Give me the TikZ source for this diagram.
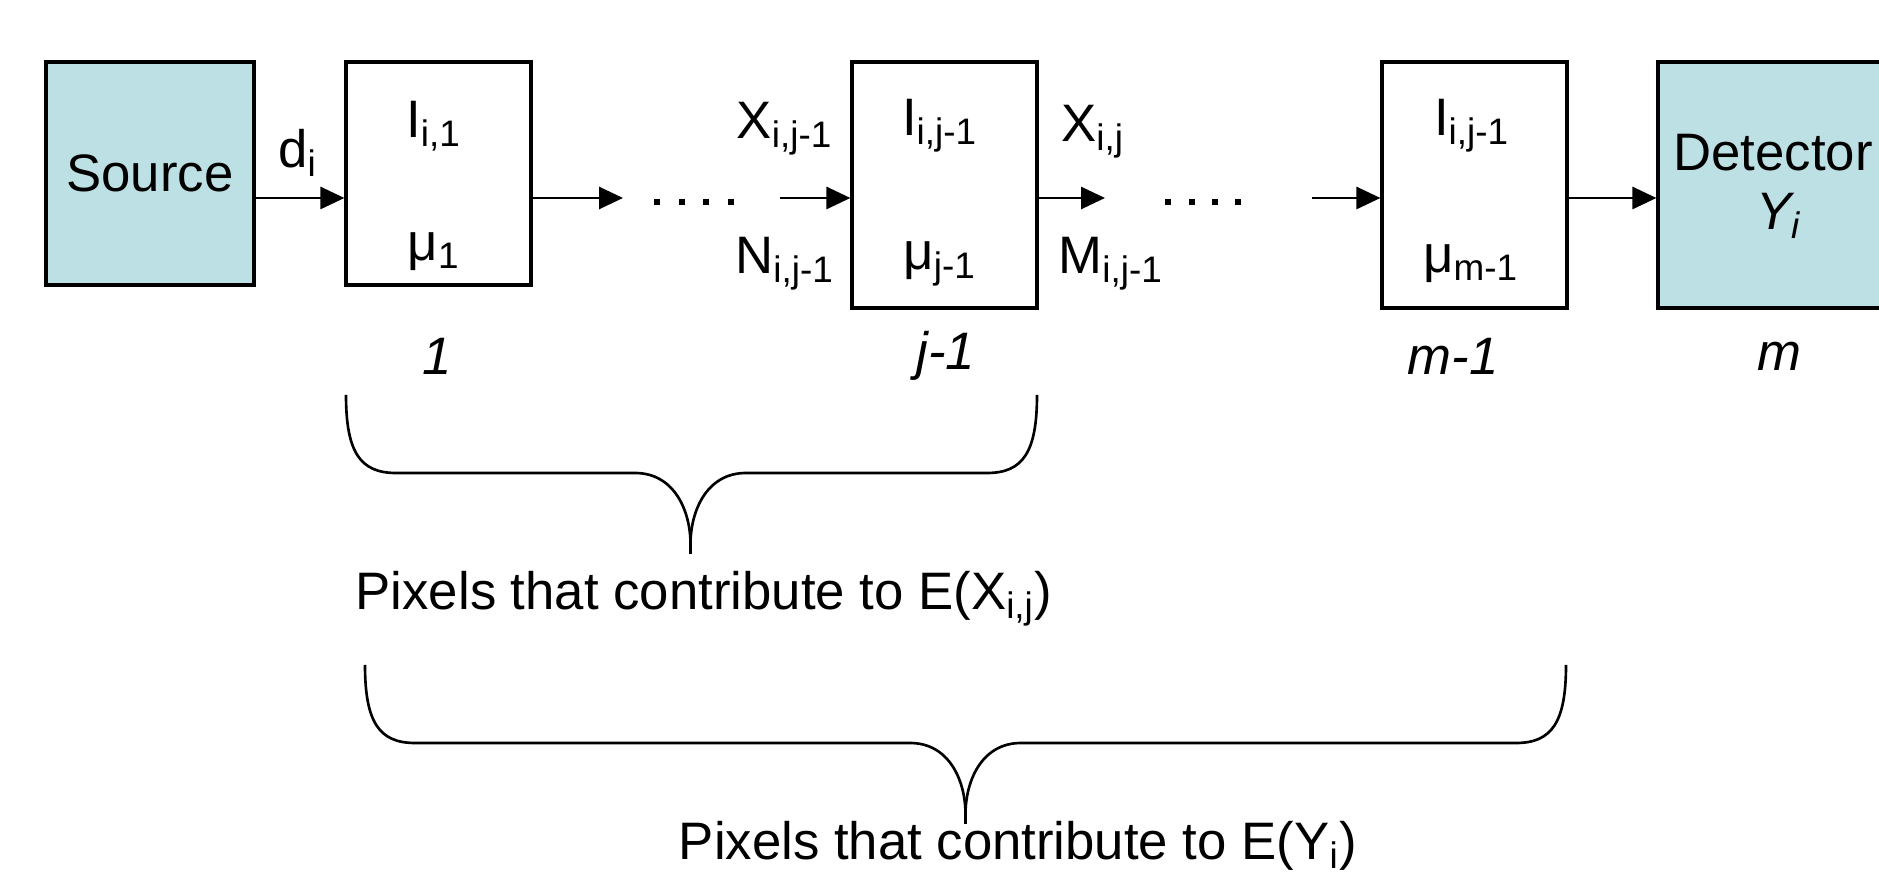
\documentclass[tikz,border=0pt]{standalone}
\usepackage{fontspec}
\setmainfont{Liberation Sans}
\usetikzlibrary{arrows.meta}
\definecolor{boxteal}{RGB}{188,224,227}
\newcommand{\idx}[1]{\textsubscript{#1}}

\tikzset{
  cell/.style={draw, line width=0.9pt, minimum width=1.85cm, minimum height=2.23cm, inner sep=0pt},
  tallcell/.style={cell, minimum height=2.46cm},
  endcell/.style={fill=boxteal},
  flow/.style={line width=0.8pt, -{Triangle[length=0.24cm,width=0.22cm]}},
  lbl/.style={inner sep=0pt},
  num/.style={inner sep=0pt, font=\fontsize{15}{17}\selectfont\itshape},
  curly/.style={line width=0.75pt},
}

\begin{document}
\begin{tikzpicture}[font=\fontsize{15}{17}\selectfont]
  \useasboundingbox (0,0) rectangle (18.79,8.72);
  \clip (0,0) rectangle (18.79,8.72);

  % Blocks
  \node[cell, endcell, minimum width=2.08cm] (src) at (1.50,6.985) {Source};
  \node[cell] (b1) at (4.385,6.985) {};
  \node[tallcell] (bj) at (9.445,6.87) {};
  \node[tallcell] (bm) at (14.745,6.87) {};
  \node[tallcell, endcell, minimum width=2.28cm] (det) at (17.72,6.87) {};

  % Text in the blocks
  \node[lbl] (i1) at (4.34,7.46) {I\idx{i,1}};
  \node[lbl] (mu1) at (4.34,6.20) {μ\idx{1}};
  \node[lbl] (ij) at (9.40,7.46) {I\idx{i,j-1}};
  \node[lbl] (muj) at (9.40,6.08) {μ\idx{j-1}};
  \node[lbl] (im) at (14.72,7.46) {I\idx{i,j-1}};
  \node[lbl] (mum) at (14.71,6.08) {μ\idx{m-1}};
  \node[lbl] (dtxt) at (17.73,7.19) {Detector};
  \node[lbl] (ytxt) at (17.79,6.56) {\itshape Y\idx{i}};

  % Signals
  \node[lbl] (di) at (2.98,7.19) {d\idx{i}};
  \node[lbl] (xin) at (7.85,7.43) {X\idx{i,j-1}};
  \node[lbl] (nin) at (7.85,6.08) {N\idx{i,j-1}};
  \node[lbl] (xout) at (10.93,7.40) {X\idx{i,j}};
  \node[lbl] (mout) at (11.11,6.08) {M\idx{i,j-1}};

  % Pixel numbers
  \node[num] (n1) at (4.37,5.16) {1};
  \node[num] (nj) at (9.46,5.16) {j-1};
  \node[num] (nm) at (14.53,5.16) {m-1};
  \node[num] (nd) at (17.79,5.16) {m};

  % Arrows
  \coordinate (ay) at (0,6.74);
  \coordinate (e1) at (6.23,6.74);
  \coordinate (s2) at (7.80,6.74);
  \coordinate (e2) at (11.05,6.74);
  \coordinate (s3) at (13.12,6.74);
  \draw[flow] (src.east |- ay) -- (b1.west |- ay);
  \draw[flow] (b1.east |- ay) -- (e1);
  \draw[flow] (s2) -- (bj.west |- ay);
  \draw[flow] (bj.east |- ay) -- (e2);
  \draw[flow] (s3) -- (bm.west |- ay);
  \draw[flow] (bm.east |- ay) -- (det.west |- ay);
  \foreach \x in {6.57,6.82,7.06,7.31,11.68,11.92,12.15,12.38}
    \fill (\x-0.03,6.67) rectangle ++(0.06,0.06);

  % Braces
  \draw[curly] (3.46,4.77) .. controls (3.46,4.2) and (3.6,3.99) .. (3.96,3.99)
    -- (6.35,3.99) .. controls (6.75,3.99) and (6.905,3.6) .. (6.905,3.28) -- (6.905,3.18);
  \draw[curly] (6.905,3.28) .. controls (6.905,3.6) and (7.06,3.99) .. (7.46,3.99)
    -- (9.87,3.99) .. controls (10.23,3.99) and (10.37,4.2) .. (10.37,4.77);
  \node[lbl] (tx) at (7.04,2.73) {Pixels that contribute to E(X\idx{i,j})};

  \draw[curly] (3.65,2.07) .. controls (3.65,1.5) and (3.79,1.29) .. (4.15,1.29)
    -- (9.10,1.29) .. controls (9.5,1.29) and (9.655,0.9) .. (9.655,0.58) -- (9.655,0.48);
  \draw[curly] (9.655,0.58) .. controls (9.655,0.9) and (9.81,1.29) .. (10.21,1.29)
    -- (15.16,1.29) .. controls (15.52,1.29) and (15.66,1.5) .. (15.66,2.07);
  \node[lbl] (ty) at (10.18,0.26) {Pixels that contribute to E(Y\idx{i})};
\end{tikzpicture}
\end{document}
